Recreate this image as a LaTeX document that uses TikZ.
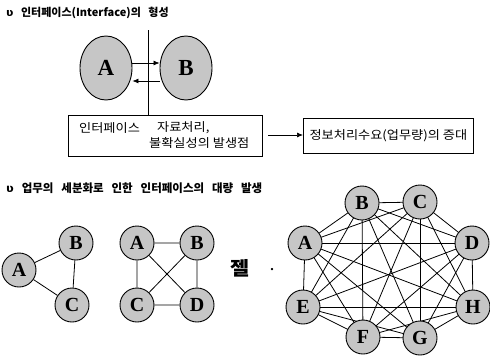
\documentclass[tikz,border=0pt]{standalone}
\usepackage{fontspec}
\setmainfont{Liberation Serif}
\newfontfamily\kr{Noto Sans CJK KR}[FakeStretch=1.1]
\newfontfamily\krhead{Noto Sans CJK KR}[WordSpace=1.5]
\newfontfamily\krheadwide{Noto Sans CJK KR}[WordSpace=3.0]
\newfontfamily\sym{DejaVu Sans}
\usetikzlibrary{arrows.meta,shapes.geometric}
\begin{document}
\begin{tikzpicture}[x=1pt,y=-1pt,
  ball/.style={circle,draw=black,line width=0.9pt,fill=gray!45,minimum size=34pt,inner sep=0pt,font=\bfseries\fontsize{20}{20}\selectfont},
  bigball/.style={ellipse,draw=black,line width=0.9pt,fill=gray!45,minimum width=52pt,minimum height=64pt,inner sep=0pt,font=\bfseries\fontsize{23}{23}\selectfont},
  title/.style={anchor=west,inner sep=0pt,font=\krhead\bfseries\fontsize{11}{11}\selectfont},
  boxtext/.style={anchor=west,inner sep=0pt,font=\kr\fontsize{12}{12}\selectfont},
  link/.style={line width=0.8pt},
  tip/.style={-{Latex[length=6pt,width=5pt]},line width=0.7pt}]
\useasboundingbox (0,0) rectangle (490,360);

% section 1 heading
\node[title] (t1) at (6,13) {{\sym ʋ} 인터페이스(Interface)의 형성};

% two units and the boundary between them
\node[bigball] (A) at (106,68) {A};
\node[bigball] (B) at (186,68) {B};
\coordinate (vtop) at (148,30);
\coordinate (vbot) at (148,115);
\draw[line width=0.7pt] (vtop) -- (vbot);
\coordinate (hi) at (0,63);
\coordinate (lo) at (0,81);
\draw[tip] (A.east |- hi) -- (B.west |- hi);
\draw[tip] (B.west |- lo) -- (A.east |- lo);

% boxes
\node[draw=black,line width=0.8pt,minimum width=194pt,minimum height=41pt,anchor=north west,inner sep=0pt] (box1) at (68,115) {};
\node[boxtext] (b1a) at (79,128) {인터페이스};
\node[boxtext] (b1c) at (157,128) {자료처리,};
\node[boxtext] (b1b) at (149,143) {불확실성의 발생점};
\node[draw=black,line width=0.8pt,minimum width=170pt,minimum height=35pt,anchor=north west,inner sep=0pt] (box2) at (303,118) {};
\node[boxtext,anchor=center] (b2) at (box2.center) {정보처리수요(업무량)의 증대};
\coordinate (arrs) at (268,135);
\draw[tip] (arrs) -- (box2.west |- arrs);

% section 2 heading
\node[title,font=\krheadwide\bfseries\fontsize{11.5}{11.5}\selectfont] (t2) at (6,188) {{\sym ʋ} 업무의 세분화로 인한 인터페이스의 대량 발생};

% three units
\node[ball] (a1) at (19,270) {A};
\node[ball] (b1) at (76,243) {B};
\node[ball] (c1) at (72,305) {C};
\draw[link] (a1) -- (b1) (b1) -- (c1) (a1) -- (c1);

% four units
\node[ball] (a2) at (137,243) {A};
\node[ball] (b2n) at (197,243) {B};
\node[ball] (c2) at (137,305) {C};
\node[ball] (d2) at (197,305) {D};
\draw[link] (a2) -- (b2n) (a2) -- (c2) (a2) -- (d2) (b2n) -- (c2) (b2n) -- (d2) (c2) -- (d2);

\node[inner sep=0pt,font=\kr\bfseries\fontsize{19}{19}\selectfont] (mid) at (240,268) {젤};
\node[inner sep=0pt,font=\bfseries\fontsize{14}{14}\selectfont] (dot) at (272,270) {.};

% eight units, fully linked
\foreach \n/\x/\y in {A/305/243,B/362/203,C/420/202,D/472/243,E/303/307,H/473/307,F/363/337,G/420/338}
  \coordinate (p\n) at (\x,\y);
\foreach \u/\v in {A/B,A/C,A/D,A/E,A/F,A/G,A/H,B/C,B/D,B/E,B/F,B/G,B/H,C/D,C/E,C/F,C/G,C/H,D/E,D/F,D/G,D/H,E/F,E/G,E/H,F/G,F/H,G/H}
  \draw[link] (p\u) -- (p\v);
\foreach \n in {A,B,C,D,E,F,G,H}
  \node[ball] (n\n) at (p\n) {\n};
\end{tikzpicture}
\end{document}
